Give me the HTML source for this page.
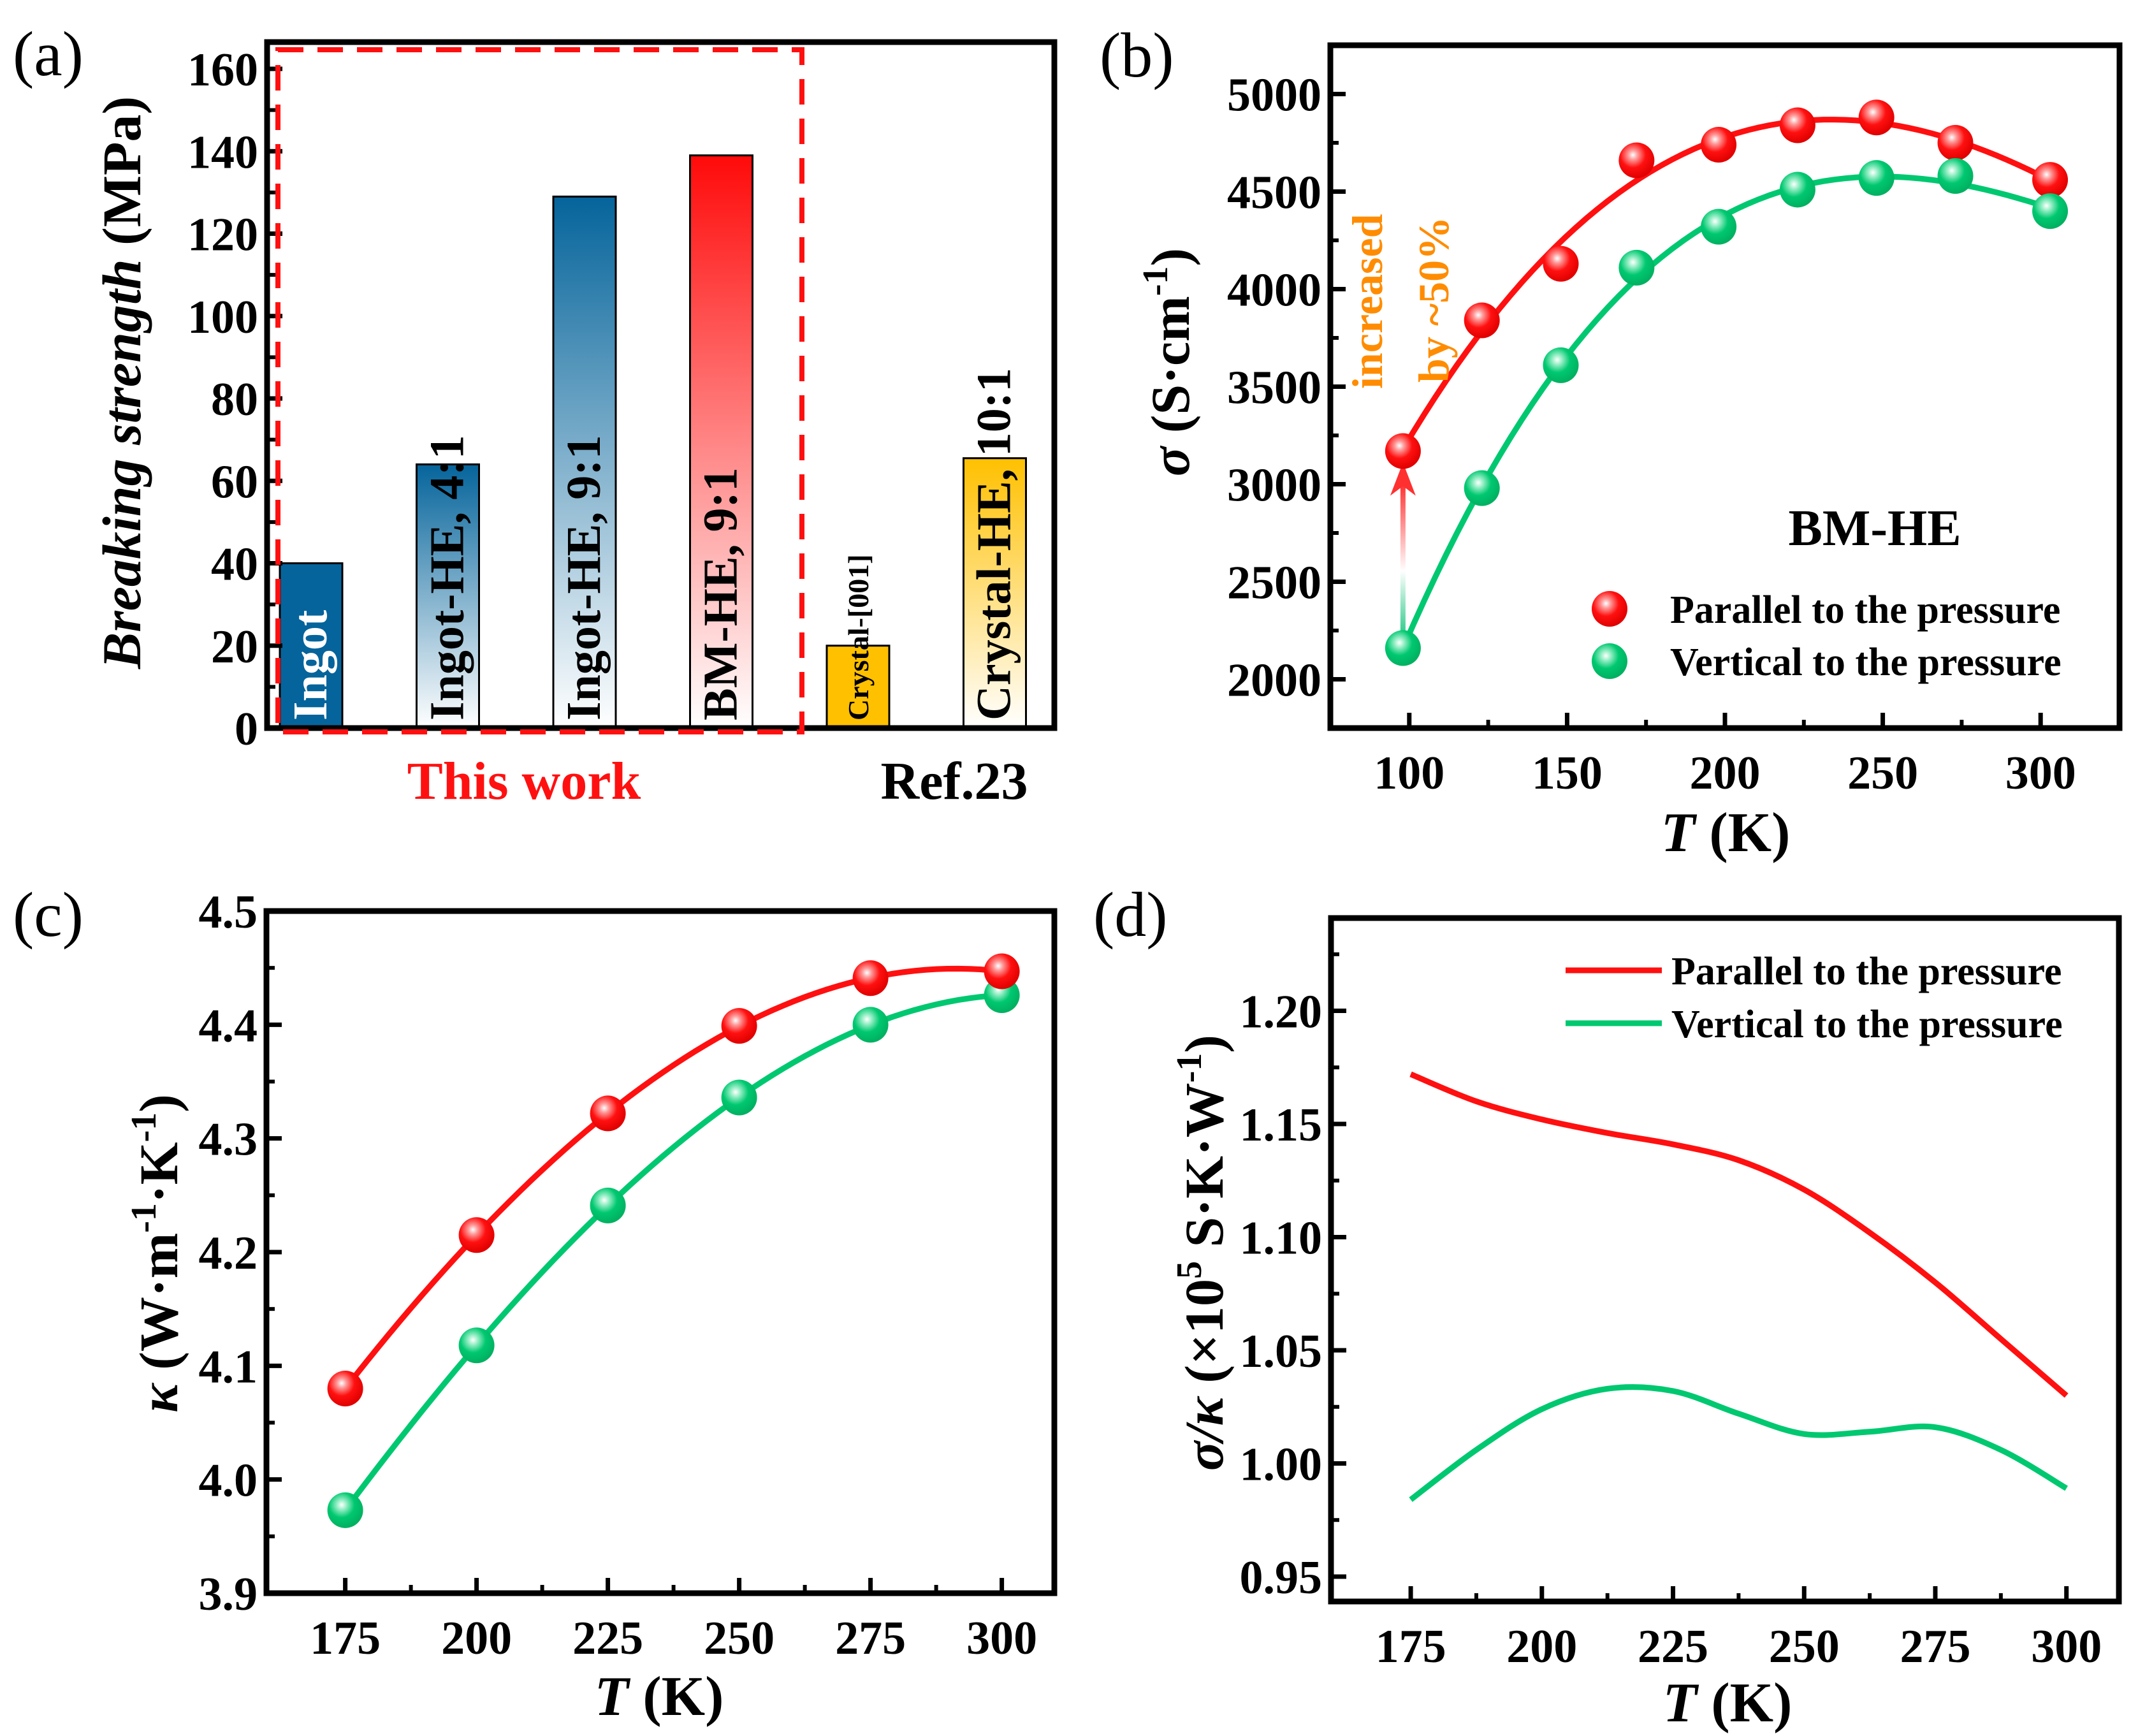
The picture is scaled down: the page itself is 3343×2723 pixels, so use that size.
<!DOCTYPE html>
<html><head><meta charset="utf-8">
<style>
html,body{margin:0;padding:0;background:#fff;}
svg{display:block;font-family:"Liberation Serif","Times New Roman",serif;}
</style></head>
<body>
<svg id="fig" xmlns="http://www.w3.org/2000/svg" width="3343" height="2723" viewBox="0 0 3343 2723">
<defs>
  <linearGradient id="gBlue" x1="0" y1="0" x2="0" y2="1"><stop offset="0" stop-color="#05649b"/><stop offset="1" stop-color="#ffffff"/></linearGradient>
  <linearGradient id="gRed" x1="0" y1="0" x2="0" y2="1"><stop offset="0" stop-color="#ff0a0a"/><stop offset="1" stop-color="#ffffff"/></linearGradient>
  <linearGradient id="gYel" x1="0" y1="0" x2="0" y2="1"><stop offset="0" stop-color="#ffc000"/><stop offset="1" stop-color="#ffffff"/></linearGradient>
  <linearGradient id="gArrow" x1="0" y1="1" x2="0" y2="0"><stop offset="0" stop-color="#00c070"/><stop offset="0.45" stop-color="#ffffff"/><stop offset="1" stop-color="#ff2020"/></linearGradient>
  <radialGradient id="mRed" cx="0.4" cy="0.35" r="0.65"><stop offset="0" stop-color="#ffffff"/><stop offset="0.2" stop-color="#ff9a9a"/><stop offset="0.55" stop-color="#ff1010"/><stop offset="1" stop-color="#e00000"/></radialGradient>
  <radialGradient id="mGreen" cx="0.4" cy="0.35" r="0.65"><stop offset="0" stop-color="#ffffff"/><stop offset="0.2" stop-color="#9af0c8"/><stop offset="0.55" stop-color="#00c870"/><stop offset="1" stop-color="#00b060"/></radialGradient>
</defs>
<g id="root"></g>
</svg>
<script>
// ===== Panel (a) data =====
const barCats = ["Ingot", "Ingot-HE, 4:1", "Ingot-HE, 9:1", "BM-HE, 9:1", "Crystal-[001]", "Crystal-HE, 10:1"];
const barVals = [40, 64, 129, 139, 20, 65.5];
const barTicks = [0, 20, 40, 60, 80, 100, 120, 140, 160];
// ===== Panel (b) data =====
const bT = [98, 123, 148, 172, 198, 223, 248, 273, 303];
const bPar = [3170, 3840, 4130, 4660, 4740, 4840, 4880, 4750, 4560];
const bVer = [2160, 2980, 3610, 4110, 4320, 4510, 4570, 4580, 4400];
const bXTicks = [100, 150, 200, 250, 300];
const bYTicks = [2000, 2500, 3000, 3500, 4000, 4500, 5000];
// ===== Panel (c) data =====
const cT = [175, 200, 225, 250, 275, 300];
const cPar = [4.080, 4.215, 4.322, 4.399, 4.441, 4.447];
const cVer = [3.973, 4.118, 4.241, 4.336, 4.400, 4.426];
const cXTicks = [175, 200, 225, 250, 275, 300];
const cYTicks = [3.9, 4.0, 4.1, 4.2, 4.3, 4.4, 4.5];
// ===== Panel (d) data =====
const dT = [175, 187.5, 200, 212.5, 225, 237.5, 250, 262.5, 275, 287.5, 300];
const dPar = [1.172, 1.160, 1.152, 1.146, 1.141, 1.134, 1.121, 1.102, 1.080, 1.055, 1.030];
const dVer = [0.984, 1.006, 1.024, 1.033, 1.032, 1.022, 1.013, 1.014, 1.016, 1.006, 0.989];
const dXTicks = [175, 200, 225, 250, 275, 300];
const dYTicks = [0.95, 1.00, 1.05, 1.10, 1.15, 1.20];

const NS = "http://www.w3.org/2000/svg";
const root = document.getElementById("root");
function mk(tag, attrs, parent, text) {
  const e = document.createElementNS(NS, tag);
  for (const k in attrs) e.setAttribute(k, attrs[k]);
  if (text !== undefined) e.textContent = text;
  (parent || root).appendChild(e);
  return e;
}
function lin(d0, d1, r0, r1) { return v => r0 + (v - d0) * (r1 - r0) / (d1 - d0); }
function polyfit(xs, ys, deg) {
  const n = deg + 1, A = [], b = [];
  for (let i = 0; i < n; i++) { A.push(new Array(n).fill(0)); b.push(0); }
  const xm = xs.reduce((a, c) => a + c, 0) / xs.length;
  xs.forEach((x0, k) => {
    const x = (x0 - xm) / 100;
    for (let i = 0; i < n; i++) {
      for (let j = 0; j < n; j++) A[i][j] += Math.pow(x, i + j);
      b[i] += ys[k] * Math.pow(x, i);
    }
  });
  for (let i = 0; i < n; i++) {
    let p = i; for (let r = i + 1; r < n; r++) if (Math.abs(A[r][i]) > Math.abs(A[p][i])) p = r;
    [A[i], A[p]] = [A[p], A[i]]; [b[i], b[p]] = [b[p], b[i]];
    for (let r = i + 1; r < n; r++) { const f = A[r][i] / A[i][i]; for (let c = i; c < n; c++) A[r][c] -= f * A[i][c]; b[r] -= f * b[i]; }
  }
  const co = new Array(n).fill(0);
  for (let i = n - 1; i >= 0; i--) { let s = b[i]; for (let c = i + 1; c < n; c++) s -= A[i][c] * co[c]; co[i] = s / A[i][i]; }
  return x0 => { const x = (x0 - xm) / 100; let s = 0; for (let i = 0; i < n; i++) s += co[i] * Math.pow(x, i); return s; };
}
function splinePath(pts) {
  let d = "M" + pts[0][0] + "," + pts[0][1];
  for (let i = 0; i < pts.length - 1; i++) {
    const p0 = pts[Math.max(0, i - 1)], p1 = pts[i], p2 = pts[i + 1], p3 = pts[Math.min(pts.length - 1, i + 2)];
    const c1 = [p1[0] + (p2[0] - p0[0]) / 6, p1[1] + (p2[1] - p0[1]) / 6];
    const c2 = [p2[0] - (p3[0] - p1[0]) / 6, p2[1] - (p3[1] - p1[1]) / 6];
    d += " C" + c1[0] + "," + c1[1] + " " + c2[0] + "," + c2[1] + " " + p2[0] + "," + p2[1];
  }
  return d;
}
function frame(g, L, T, R, B) {
  const f = mk("rect", {x: L, y: T, width: R - L, height: B - T, fill: "none", stroke: "#000", "stroke-width": 9}, g);
  
  
}
function xTicksFn(g, ticks, sx, B, minorStep, L, R) {
  ticks.forEach(t => {
    const x = sx(t);
    const tk = mk("line", {x1: x, y1: B, x2: x, y2: B - 24, stroke: "#000", "stroke-width": 7}, g);
    
    
    const lb = mk("text", {x: x, y: B + 95, "text-anchor": "middle", "font-size": 74, "font-weight": "bold"}, g, String(t));
    
    
    if (minorStep) {
      const mx = sx(t + minorStep);
      if (mx > L + 10 && mx < R - 10) {
        const mn = mk("line", {x1: mx, y1: B, x2: mx, y2: B - 13, stroke: "#000", "stroke-width": 6}, g);
        
        
      }
    }
  });
}
function yTicksFn(g, ticks, sy, L, fmt, minorStep, T, B) {
  ticks.forEach(t => {
    const y = sy(t);
    const tk = mk("line", {x1: L, y1: y, x2: L + 24, y2: y, stroke: "#000", "stroke-width": 7}, g);
    
    
    const lb = mk("text", {x: L - 14, y: y + 26, "text-anchor": "end", "font-size": 74, "font-weight": "bold"}, g, fmt(t));
    
    
    if (minorStep) {
      const my = sy(t + minorStep);
      if (my > T + 10 && my < B - 10) {
        const mn = mk("line", {x1: L, y1: my, x2: L + 13, y2: my, stroke: "#000", "stroke-width": 6}, g);
        
        
      }
    }
  });
}
function marker(g, x, y, fill, name) {
  const m = mk("circle", {cx: x, cy: y, r: 28, fill: fill}, g);
  
  
}
function panelLabel(x, y, t) {
  const e = mk("text", {x: x, y: y, "font-size": 100}, root, t);
  
  
}

// ================= Panel (a) =================
(function () {
  const g = mk("g", {});
  
  
  const L = 419, R = 1654, T = 66, B = 1142;
  const sy = lin(0, 160, B, 108);
  const sx = i => 488 + i * 214.5;
  const fills = ["#05649b", "url(#gBlue)", "url(#gBlue)", "url(#gRed)", "#ffc000", "url(#gYel)"];
  const tcol = ["#ffffff", "#000", "#000", "#000", "#000", "#000"];
  const bw = 98;
  barVals.forEach((v, i) => {
    const x = sx(i) - bw / 2, y = sy(v);
    const r = mk("rect", {x: x, y: y, width: bw, height: B - y, fill: fills[i], stroke: "#000", "stroke-width": 3}, g);
    
    
    const small = i === 4;
    const tx = sx(i) + (small ? 16 : 24);
    const t = mk("text", {x: tx, y: B - 12, "font-size": small ? 46 : 76, "font-weight": "bold", fill: tcol[i], transform: "rotate(-90 " + tx + " " + (B - 12) + ")"}, g, barCats[i]);
    
    
  });
  frame(g, L, T, R, B);
  yTicksFn(g, barTicks, sy, L, t => String(t), 10, T, B);
  const dash = mk("rect", {x: 436, y: 78, width: 822, height: 1070, fill: "none", stroke: "#ff1010", "stroke-width": 8, "stroke-dasharray": "40 22"}, g);
  
  
  const tw = mk("text", {x: 822, y: 1253, "text-anchor": "middle", "font-size": 84, "font-weight": "bold", fill: "#ff1010"}, g, "This work");
  
  
  const rf = mk("text", {x: 1497, y: 1253, "text-anchor": "middle", "font-size": 84, "font-weight": "bold"}, g, "Ref.23");
  
  
  const yl = mk("text", {x: 0, y: 0, "text-anchor": "middle", "font-size": 86, "font-weight": "bold", transform: "translate(220 600) rotate(-90)"}, g);
  
  
  mk("tspan", {"font-style": "italic"}, yl, "Breaking strength ");
  mk("tspan", {}, yl, "(MPa)");
})();
panelLabel(20, 118, "(a)");

// ================= Panel (b) =================
(function () {
  const g = mk("g", {});
  
  
  const L = 2087, R = 3325, T = 71, B = 1142;
  const sx = lin(75, 325, L, R), sy = lin(1750, 5250, B, T);
  frame(g, L, T, R, B);
  xTicksFn(g, bXTicks, sx, B, 25, L, R);
  yTicksFn(g, bYTicks, sy, L, t => String(t), 250, T, B);
  const fits = [[bPar, "#ff1010", "fit-parallel"], [bVer, "#00c870", "fit-vertical"]];
  fits.forEach(([ys, col, nm]) => {
    const f = polyfit(bT, ys, 3);
    const pts = [];
    for (let i = 0; i <= 60; i++) { const t = bT[0] + (bT[bT.length - 1] - bT[0]) * i / 60; pts.push([sx(t), sy(f(t))]); }
    const p = mk("path", {d: "M" + pts.map(p => p.join(",")).join(" L"), fill: "none", stroke: col, "stroke-width": 9}, g);
    
    
  });
  const ax = sx(bT[0]);
  const ar = mk("rect", {x: ax - 4, y: sy(bPar[0]) + 40, width: 8, height: sy(bVer[0]) - sy(bPar[0]) - 40, fill: "url(#gArrow)"}, g);
  
  
  const ah = mk("path", {d: "M" + (ax - 20) + "," + (sy(bPar[0]) + 70) + " L" + ax + "," + (sy(bPar[0]) + 18) + " L" + (ax + 20) + "," + (sy(bPar[0]) + 70) + " L" + ax + "," + (sy(bPar[0]) + 55) + "Z", fill: "#ff3030"}, g);
  
  
  bT.forEach((t, i) => marker(g, sx(t), sy(bPar[i]), "url(#mRed)", "point-parallel"));
  bT.forEach((t, i) => marker(g, sx(t), sy(bVer[i]), "url(#mGreen)", "point-vertical"));
  const a1 = mk("text", {x: 0, y: 0, "font-size": 68, "font-weight": "bold", fill: "#ff8c00", transform: "translate(2168 610) rotate(-90)"}, g, "increased");
  
  
  const a2 = mk("text", {x: 0, y: 0, "font-size": 68, "font-weight": "bold", fill: "#ff8c00", transform: "translate(2272 600) rotate(-90)"}, g, "by ~50%");
  
  
  const bm = mk("text", {x: 2941, y: 855, "text-anchor": "middle", "font-size": 80, "font-weight": "bold"}, g, "BM-HE");
  
  
  marker(g, 2525, 955, "url(#mRed)", "legend-marker-parallel");
  marker(g, 2525, 1037, "url(#mGreen)", "legend-marker-vertical");
  const l1 = mk("text", {x: 2620, y: 977, "font-size": 62, "font-weight": "bold"}, g, "Parallel to the pressure");
  
  
  const l2 = mk("text", {x: 2620, y: 1059, "font-size": 62, "font-weight": "bold"}, g, "Vertical to the pressure");
  
  
  const xl = mk("text", {x: 2707, y: 1335, "text-anchor": "middle", "font-size": 88, "font-weight": "bold"}, g);
  
  
  mk("tspan", {"font-style": "italic"}, xl, "T");
  mk("tspan", {}, xl, " (K)");
  const yl = mk("text", {x: 0, y: 0, "text-anchor": "middle", "font-size": 86, "font-weight": "bold", transform: "translate(1865 568) rotate(-90)"}, g);
  
  
  mk("tspan", {"font-style": "italic"}, yl, "σ");
  mk("tspan", {}, yl, " (S·cm");
  mk("tspan", {dy: -34, "font-size": 56}, yl, "-1");
  mk("tspan", {dy: 34}, yl, ")");
})();
panelLabel(1725, 120, "(b)");

// ================= Panel (c) =================
(function () {
  const g = mk("g", {});
  
  
  const L = 418, R = 1654, T = 1429, B = 2499;
  const sx = lin(160, 310, L, R), sy = lin(3.9, 4.5, B, T);
  frame(g, L, T, R, B);
  xTicksFn(g, cXTicks, sx, B, 12.5, L, R);
  yTicksFn(g, cYTicks, sy, L, t => t.toFixed(1), 0.05, T, B);
  [[cPar, "#ff1010", "fit-parallel"], [cVer, "#00c870", "fit-vertical"]].forEach(([ys, col, nm]) => {
    const f = polyfit(cT, ys, 3);
    const pts = [];
    for (let i = 0; i <= 60; i++) { const t = cT[0] + (cT[cT.length - 1] - cT[0]) * i / 60; pts.push([sx(t), sy(f(t))]); }
    const p = mk("path", {d: "M" + pts.map(p => p.join(",")).join(" L"), fill: "none", stroke: col, "stroke-width": 9}, g);
    
    
  });
  cT.forEach((t, i) => marker(g, sx(t), sy(cVer[i]), "url(#mGreen)", "point-vertical"));
  cT.forEach((t, i) => marker(g, sx(t), sy(cPar[i]), "url(#mRed)", "point-parallel"));
  const xl = mk("text", {x: 1034, y: 2690, "text-anchor": "middle", "font-size": 88, "font-weight": "bold"}, g);
  
  
  mk("tspan", {"font-style": "italic"}, xl, "T");
  mk("tspan", {}, xl, " (K)");
  const yl = mk("text", {x: 0, y: 0, "text-anchor": "middle", "font-size": 86, "font-weight": "bold", transform: "translate(278 1966) rotate(-90)"}, g);
  
  
  mk("tspan", {"font-style": "italic"}, yl, "κ");
  mk("tspan", {}, yl, " (W·m");
  mk("tspan", {dy: -34, "font-size": 56}, yl, "-1");
  mk("tspan", {dy: 34}, yl, "·K");
  mk("tspan", {dy: -34, "font-size": 56}, yl, "-1");
  mk("tspan", {dy: 34}, yl, ")");
})();
panelLabel(20, 1468, "(c)");

// ================= Panel (d) =================
(function () {
  const g = mk("g", {});
  
  
  const L = 2088, R = 3324, T = 1440, B = 2512;
  const sx = lin(159.8, 310, L, R), sy = lin(0.939, 1.241, B, T);
  frame(g, L, T, R, B);
  xTicksFn(g, dXTicks, sx, B, 12.5, L, R);
  yTicksFn(g, dYTicks, sy, L, t => t.toFixed(2), 0.025, T, B);
  [[dPar, "#ff1010", "line-parallel"], [dVer, "#00c870", "line-vertical"]].forEach(([ys, col, nm]) => {
    const pts = dT.map((t, i) => [sx(t), sy(ys[i])]);
    const p = mk("path", {d: splinePath(pts), fill: "none", stroke: col, "stroke-width": 9}, g);
    
    
  });
  const ll1 = mk("line", {x1: 2456, y1: 1522, x2: 2607, y2: 1522, stroke: "#ff1010", "stroke-width": 9}, g);
  
  
  const ll2 = mk("line", {x1: 2456, y1: 1605, x2: 2607, y2: 1605, stroke: "#00c870", "stroke-width": 9}, g);
  
  
  const l1 = mk("text", {x: 2622, y: 1544, "font-size": 62, "font-weight": "bold"}, g, "Parallel to the pressure");
  
  
  const l2 = mk("text", {x: 2622, y: 1627, "font-size": 62, "font-weight": "bold"}, g, "Vertical to the pressure");
  
  
  const xl = mk("text", {x: 2710, y: 2700, "text-anchor": "middle", "font-size": 88, "font-weight": "bold"}, g);
  
  
  mk("tspan", {"font-style": "italic"}, xl, "T");
  mk("tspan", {}, xl, " (K)");
  const yl = mk("text", {x: 0, y: 0, "text-anchor": "middle", "font-size": 86, "font-weight": "bold", transform: "translate(1918 1965) rotate(-90)"}, g);
  
  
  mk("tspan", {"font-style": "italic"}, yl, "σ/κ");
  mk("tspan", {}, yl, " (×10");
  mk("tspan", {dy: -34, "font-size": 56}, yl, "5");
  mk("tspan", {dy: 34}, yl, " S·K·W");
  mk("tspan", {dy: -34, "font-size": 56}, yl, "-1");
  mk("tspan", {dy: 34}, yl, ")");
})();
panelLabel(1715, 1468, "(d)");
</script>
</body></html>
